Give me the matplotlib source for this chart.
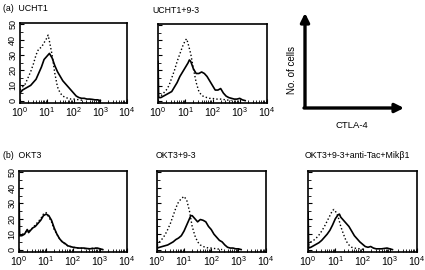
import matplotlib
matplotlib.use("Agg")
import matplotlib.pyplot as plt
from matplotlib.ticker import LogLocator, NullFormatter, MultipleLocator

plt.rcParams['font.family'] = ['Liberation Sans', 'DejaVu Sans']
plt.rcParams['mathtext.fontset'] = 'custom'
plt.rcParams['mathtext.rm'] = 'Liberation Sans'
plt.rcParams['mathtext.it'] = 'Liberation Sans:italic'

# fluorescence values are given as log10 exponents, counts as "No. of cells"
a1_solid_x = [0, 0.1, 0.2, 0.3, 0.4, 0.5, 0.6, 0.7, 0.8, 0.9, 1.0, 1.1, 1.2, 1.3, 1.4, 1.5,
              1.6, 1.7, 1.8, 1.9, 2.0, 2.1, 2.2, 2.3, 2.4, 2.5, 2.6, 2.7, 2.8, 2.9, 3.0]
a1_solid_y = [5, 7, 8, 9, 10, 12, 14, 18, 22, 27, 29, 31, 28, 23, 19, 16,
              13, 11, 9, 7, 5, 3, 2, 1.5, 1.5, 1, 1, 0.8, 0.5, 0.5, 0]
a1_dot_x = [0, 0.1, 0.2, 0.3, 0.4, 0.5, 0.6, 0.7, 0.8, 0.9, 1.0, 1.05, 1.1, 1.2, 1.3, 1.4,
            1.5, 1.6, 1.7, 1.8, 1.9, 2.0, 2.1, 2.2, 2.4]
a1_dot_y = [7, 9, 11, 15, 19, 24, 30, 34, 35, 38, 41, 43, 39, 30, 18, 9,
            5, 3, 2, 1.5, 1, 1, 0.8, 0.5, 0]

a2_solid_x = [0, 0.02, 0.1, 0.2, 0.3, 0.4, 0.5, 0.6, 0.7, 0.8, 0.9, 1.0, 1.1, 1.15, 1.2, 1.3,
              1.4, 1.5, 1.6, 1.7, 1.8, 1.9, 2.0, 2.1, 2.2, 2.3, 2.4, 2.5, 2.6, 2.7, 2.8,
              2.9, 3.0, 3.1, 3.2]
a2_solid_y = [26, 2, 2, 3, 4, 5, 6, 9, 12, 16, 19, 22, 25, 27, 26, 21,
              18, 18, 19, 18, 16, 13, 10, 7, 7, 8, 5, 3, 2, 1.5, 1,
              1, 1.5, 0.5, 0]
a2_dot_x = [0, 0.1, 0.2, 0.3, 0.4, 0.5, 0.6, 0.7, 0.8, 0.9, 1.0, 1.05, 1.1, 1.2, 1.3, 1.4,
            1.5, 1.6, 1.7, 1.8, 1.9, 2.0, 2.1, 2.3, 2.5, 2.7]
a2_dot_y = [2, 3, 5, 7, 10, 15, 20, 26, 31, 36, 40, 41, 38, 31, 21, 12,
            6, 3.5, 2.5, 2, 1.5, 1.5, 1, 1, 0.5, 0]

b1_solid_x = [0, 0.02, 0.1, 0.2, 0.3, 0.35, 0.4, 0.5, 0.6, 0.7, 0.8, 0.9, 1.0, 1.1, 1.2, 1.3,
              1.4, 1.5, 1.6, 1.7, 1.8, 1.9, 2.0, 2.2, 2.4, 2.6, 2.8, 2.9, 3.0, 3.1]
b1_solid_y = [30, 9, 9, 10, 13, 11, 12, 14, 15, 17, 19, 22, 23, 22, 19, 14,
              10, 7, 5, 4, 2.5, 2, 1.5, 1, 1, 0.5, 0.8, 1, 0.5, 0]
b1_dot_x = [0, 0.1, 0.2, 0.3, 0.4, 0.5, 0.6, 0.7, 0.8, 0.9, 1.0, 1.1, 1.2, 1.3, 1.4, 1.5,
            1.6, 1.7, 1.8, 2.0, 2.2, 2.5, 2.8, 3.0, 3.1]
b1_dot_y = [9, 9.5, 11, 12, 12.5, 14, 16, 18, 20, 23, 24, 21, 18, 13, 10, 7,
            5, 3.5, 2.5, 1.5, 1, 0.5, 1, 0.5, 0]

b2_solid_x = [0, 0.02, 0.1, 0.2, 0.3, 0.4, 0.5, 0.6, 0.7, 0.8, 0.9, 1.0, 1.1, 1.2, 1.25, 1.3,
              1.4, 1.5, 1.6, 1.7, 1.8, 1.9, 2.0, 2.1, 2.2, 2.3, 2.4, 2.5, 2.6, 2.7, 2.8,
              2.9, 3.0, 3.1]
b2_solid_y = [19, 1, 1.5, 2, 2.5, 3, 4, 5, 6.5, 7.5, 9, 12, 16, 20, 22, 22,
              20, 18, 19.5, 19, 18, 15, 13, 10, 8, 6, 5, 3, 1.5, 1, 1,
              0.5, 0.5, 0]
b2_dot_x = [0, 0.1, 0.2, 0.3, 0.4, 0.5, 0.6, 0.7, 0.8, 0.9, 1.0, 1.1, 1.2, 1.3, 1.4, 1.5,
            1.6, 1.7, 1.8, 1.9, 2.0, 2.2, 2.4]
b2_dot_y = [3, 5, 7, 9.5, 13, 17, 22, 27, 31, 33, 34.5, 32, 25, 15, 9, 5,
            3, 2, 1.5, 1, 1, 0.5, 0]

b3_solid_x = [0, 0.02, 0.1, 0.2, 0.3, 0.4, 0.5, 0.6, 0.7, 0.8, 0.9, 1.0, 1.1, 1.15, 1.2, 1.3,
              1.4, 1.5, 1.6, 1.7, 1.8, 1.9, 2.0, 2.1, 2.2, 2.3, 2.4, 2.5, 2.7, 2.9, 3.0, 3.1]
b3_solid_y = [24, 1, 1.5, 2.5, 3.5, 4.5, 6, 8, 10, 12.5, 16, 20, 22.5, 23, 21, 19,
              17, 15, 12, 9, 7, 5, 3.5, 2, 1.5, 2, 1, 0.5, 0.5, 1, 0.5, 0]
b3_dot_x = [0, 0.1, 0.2, 0.3, 0.4, 0.5, 0.6, 0.7, 0.8, 0.9, 0.95, 1.0, 1.1, 1.2, 1.3, 1.4,
            1.5, 1.6, 1.7, 1.9, 2.1]
b3_dot_y = [3, 5, 6, 7.5, 9.5, 12, 15, 18.5, 22, 25.5, 26, 25, 21.5, 15, 10, 5.5,
            3, 1.5, 1, 0.5, 0]

titles = ["(a)  UCHT1", "UCHT1+9-3", "(b)  OKT3", "OKT3+9-3", "OKT3+9-3+anti-Tac+Mik\u03b21"]
x_ticklabels = [r"$10^{0}$", r"$10^{1}$", r"$10^{2}$", r"$10^{3}$", r"$10^{4}$"]
y_ticks = [0, 10, 20, 30, 40, 50]

panels = [
    # rect (left, bottom, width, height), title, title x/y offset, y labels?, curves
    ([0.047, 0.619, 0.252, 0.296], titles[0], -0.16, 1.13, True,
     (a1_solid_x, a1_solid_y, a1_dot_x, a1_dot_y)),
    ([0.372, 0.619, 0.256, 0.293], titles[1], -0.055, 1.11, False,
     (a2_solid_x, a2_solid_y, a2_dot_x, a2_dot_y)),
    ([0.045, 0.067, 0.254, 0.300], titles[2], -0.15, 1.13, True,
     (b1_solid_x, b1_solid_y, b1_dot_x, b1_dot_y)),
    ([0.369, 0.067, 0.256, 0.300], titles[3], -0.01, 1.13, False,
     (b2_solid_x, b2_solid_y, b2_dot_x, b2_dot_y)),
    ([0.725, 0.067, 0.256, 0.300], titles[4], -0.028, 1.14, False,
     (b3_solid_x, b3_solid_y, b3_dot_x, b3_dot_y)),
]

fig = plt.figure(figsize=(4.25, 2.7), dpi=100)

for rect, title, tx, ty, ylabels, (sx, sy, dx, dy) in panels:
    ax = fig.add_axes(rect)
    ax.plot([10 ** v for v in dx], dy, color='black', lw=1.0, ls=(0, (1, 1.6)))
    ax.plot([10 ** v for v in sx], sy, color='black', lw=1.2)
    ax.set_xscale('log')
    ax.set_xlim(1, 1e4)
    ax.set_ylim(-1.5, 51)
    ax.set_xticks([1, 10, 100, 1000, 10000])
    ax.set_xticklabels(x_ticklabels, fontsize=7.5)
    ax.xaxis.set_minor_locator(LogLocator(base=10, subs=range(2, 10), numticks=20))
    ax.xaxis.set_minor_formatter(NullFormatter())
    ax.set_yticks(y_ticks)
    ax.yaxis.set_minor_locator(MultipleLocator(5))
    if ylabels:
        ax.set_yticklabels([str(v) for v in y_ticks], fontsize=6.5, rotation=90, va='center')
    else:
        ax.set_yticklabels([])
    ax.tick_params(axis='both', which='major', direction='in', length=3, width=0.8, pad=2)
    ax.tick_params(axis='both', which='minor', direction='in', length=2, width=0.6)
    for sp in ax.spines.values():
        sp.set_linewidth(1.2)
    ax.text(tx, ty, title, transform=ax.transAxes, fontsize=6.3, ha='left', va='bottom')

# axis key: arrows for No. of cells / CTLA-4
arrow = dict(arrowstyle='-|>', lw=2.4, color='black', mutation_scale=13, shrinkA=0, shrinkB=0)
fig.add_artist(matplotlib.patches.FancyArrowPatch((305, 163), (305, 257), transform=None, **arrow))
fig.add_artist(matplotlib.patches.FancyArrowPatch((304, 162), (404, 162), transform=None, **arrow))
fig.text(292 / 425, 1 - 70 / 270, "No. of cells", rotation=90, fontsize=7, ha='center', va='center')
fig.text(352 / 425, 1 - 125 / 270, "CTLA-4", fontsize=6.8, ha='center', va='center')

fig.savefig("out.png", dpi=100)
